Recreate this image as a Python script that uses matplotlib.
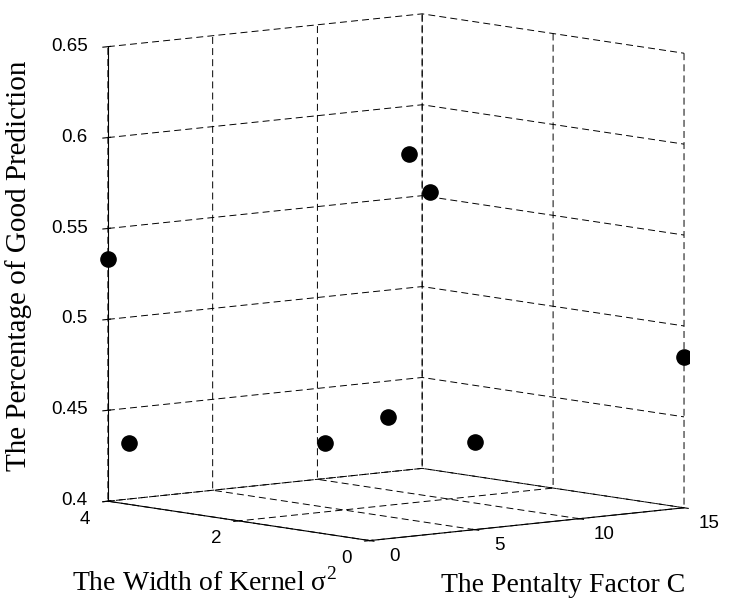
import matplotlib
matplotlib.use('Agg')
from matplotlib import pyplot as plt
from mpl_toolkits.mplot3d import proj3d

# grid search results: penalty factor C, kernel width sigma^2, good prediction rate
penalty_c = [0, 1, 1, 4, 5, 6, 5, 15]
kernel_width = [4, 4, 1, 1, 1, 1, 0, 0]
good_pred = [0.533, 0.431, 0.447, 0.458, 0.601, 0.579, 0.448, 0.483]

x_ticks = [0, 5, 10, 15]
y_ticks = [0, 2, 4]
z_ticks = [0.4, 0.45, 0.5, 0.55, 0.6, 0.65]
z_tick_labels = ['0.4', '0.45', '0.5', '0.55', '0.6', '0.65']

plt.rcParams['font.family'] = ['Liberation Sans', 'DejaVu Sans']
plt.rcParams['grid.color'] = 'k'
plt.rcParams['grid.linewidth'] = 0.7
plt.rcParams['grid.linestyle'] = (0, (5, 3))
plt.rcParams['lines.scale_dashes'] = False
plt.rcParams['mathtext.fontset'] = 'custom'
plt.rcParams['mathtext.rm'] = 'Liberation Serif'


def tick_text(ax, x, y, z, label, **kw):
    # put a 2D label at the projected spot of a 3D point
    px, py, _ = proj3d.proj_transform(x, y, z, ax.M)
    ax.text2D(px, py, label, transform=ax.transData, size=13.5, **kw)


def main():
    fig = plt.figure(figsize=(7.29, 6.02), dpi=100)
    ax = fig.add_axes([0.032, 0.026, 1.0, 1.0], projection='3d')
    ax.set_proj_type('ortho')
    ax.view_init(elev=7.2, azim=-129.8)
    ax.set_box_aspect((1, 1, 1.12), zoom=1.19)
    ax.set_facecolor('none')

    ax.scatter(penalty_c, kernel_width, good_pred, s=120, c='k',
               depthshade=False)

    x_lo, x_hi = 0, 15
    y_lo, y_hi = 0, 4
    z_lo, z_hi = 0.4, 0.65
    ax.set_xlim(x_lo, x_hi)
    ax.set_ylim(y_lo, y_hi)
    ax.set_zlim(z_lo, z_hi)
    ax.set_xticks(x_ticks)
    ax.set_yticks(y_ticks)
    ax.set_zticks(z_ticks)

    for axis in (ax.xaxis, ax.yaxis, ax.zaxis):
        axis.set_pane_color((1, 1, 1, 0))
        axis.pane.set_edgecolor('none')
        axis.line.set_color('k')
        axis.line.set_linewidth(0.8)
        # MATLAB puts tick labels a bit differently, so they are placed by hand below
        for tick in axis.get_major_ticks():
            tick.label1.set_visible(False)
            tick.label2.set_visible(False)
        axis.label.set_visible(False)
        axis.offsetText.set_visible(False)

    fig.canvas.draw()  # sets ax.M
    for t in x_ticks:
        tick_text(ax, t, y_lo - 0.38, z_lo - 0.0066, str(t),
                  ha='center', va='center')
    for t in y_ticks:
        tick_text(ax, x_lo - 1.1, t, z_lo - 0.0085, str(t),
                  ha='center', va='center')
    for t, lab in zip(z_ticks, z_tick_labels):
        tick_text(ax, x_lo - 0.5, y_hi + 0.15, t, lab,
                  ha='right', va='center')

    serif = ['Liberation Serif', 'DejaVu Serif']
    fig.text(0.28, 0.032, 'The Width of Kernel σ$^{\\mathregular{2}}$',
             family=serif, size=20, ha='center', va='center')
    fig.text(0.772, 0.027, 'The Pentalty Factor C',
             family=serif, size=20, ha='center', va='center')
    fig.text(0.026, 0.558, 'The Percentage of Good Prediction',
             family=serif, size=21, rotation=90, ha='center', va='center')

    fig.savefig('out.png', dpi=100)
    plt.close(fig)


if __name__ == '__main__':
    main()
